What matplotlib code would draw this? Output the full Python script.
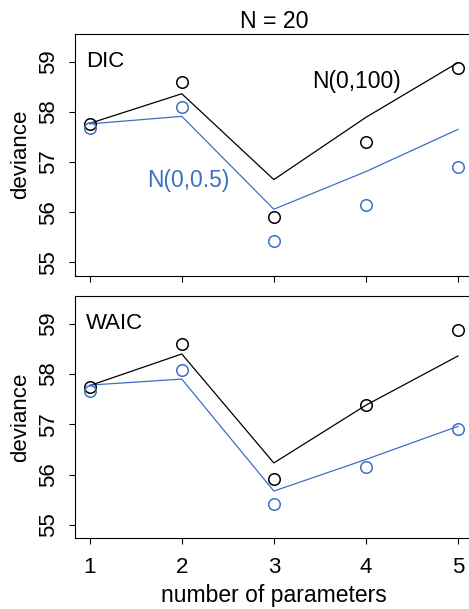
import matplotlib
matplotlib.use("Agg")
import matplotlib.pyplot as plt

plt.rcParams['font.family'] = ['Liberation Sans', 'DejaVu Sans']

params = [1, 2, 3, 4, 5]
# points (same in both panels)
pts_flat = [57.75, 58.59, 55.91, 57.39, 58.88]     # N(0,100)
pts_reg = [57.67, 58.09, 55.42, 56.15, 56.90]      # N(0,0.5)
# DIC lines
dic_flat = [57.77, 58.36, 56.65, 57.89, 58.98]
dic_reg = [57.76, 57.91, 56.06, 56.81, 57.65]
# WAIC lines
waic_flat = [57.77, 58.40, 56.23, 57.38, 58.36]
waic_reg = [57.78, 57.90, 55.67, 56.30, 56.96]

yticks = [55, 56, 57, 58, 59]
xticks = [1, 2, 3, 4, 5]

BLUE = "#3D70C2"
W, H = 469, 609
fig = plt.figure(figsize=(W / 100, H / 100), dpi=100)

def px_ax(l, t, r, b):
    return [l / W, 1 - b / H, (r - l) / W, (b - t) / H]

ax1 = fig.add_axes(px_ax(75, 33.5, 472.7, 276))
ax2 = fig.add_axes(px_ax(75, 295.7, 472.7, 538.3))

FS = 16
for ax, lf, lr, lab in [(ax1, dic_flat, dic_reg, "DIC"), (ax2, waic_flat, waic_reg, "WAIC")]:
    ax.plot(params, lf, color="black", lw=0.9)
    ax.plot(params, lr, color=BLUE, lw=0.9)
    ax.plot(params, pts_flat, 'o', mfc='none', mec='black', mew=1.1, ms=8.3)
    ax.plot(params, pts_reg, 'o', mfc='none', mec=BLUE, mew=1.1, ms=8.3)
    ax.set_xlim(0.84, 5.16)
    ax.set_ylim(54.73, 59.56)
    ax.set_xticks(xticks)
    ax.set_yticks(yticks)
    ax.set_yticklabels([str(v) for v in yticks], rotation=90, va='center')
    ax.tick_params(direction='out', length=4.5, width=0.8, labelsize=FS, pad=7)
    ax.tick_params(axis='x', pad=9)
    for s in ax.spines.values():
        s.set_linewidth(0.8)
    ax.text(0.957, 58.89 if lab == "DIC" else 58.90, lab, fontsize=FS, va='baseline', ha='left')
    fig.text(26 / W, 1 - ((33.5 + 276) / 2 if lab == "DIC" else (295.7 + 538.3) / 2) / H,
             "deviance", rotation=90, rotation_mode='anchor', ha='center', va='baseline', fontsize=FS)

ax1.tick_params(axis='x', labelbottom=False)
ax1.text(3.42, 58.48, "N(0,100)", fontsize=16.5, va='baseline', ha='left', color='black')
ax1.text(1.62, 56.50, "N(0,0.5)", fontsize=16.5, va='baseline', ha='left', color=BLUE)

fig.text(273.9 / W, 1 - 28 / H, "N = 20", ha='center', va='baseline', fontsize=16.7)
fig.text(273.9 / W, 1 - 602 / H, "number of parameters", ha='center', va='baseline', fontsize=16.5)

fig.savefig("out.png", dpi=100)
